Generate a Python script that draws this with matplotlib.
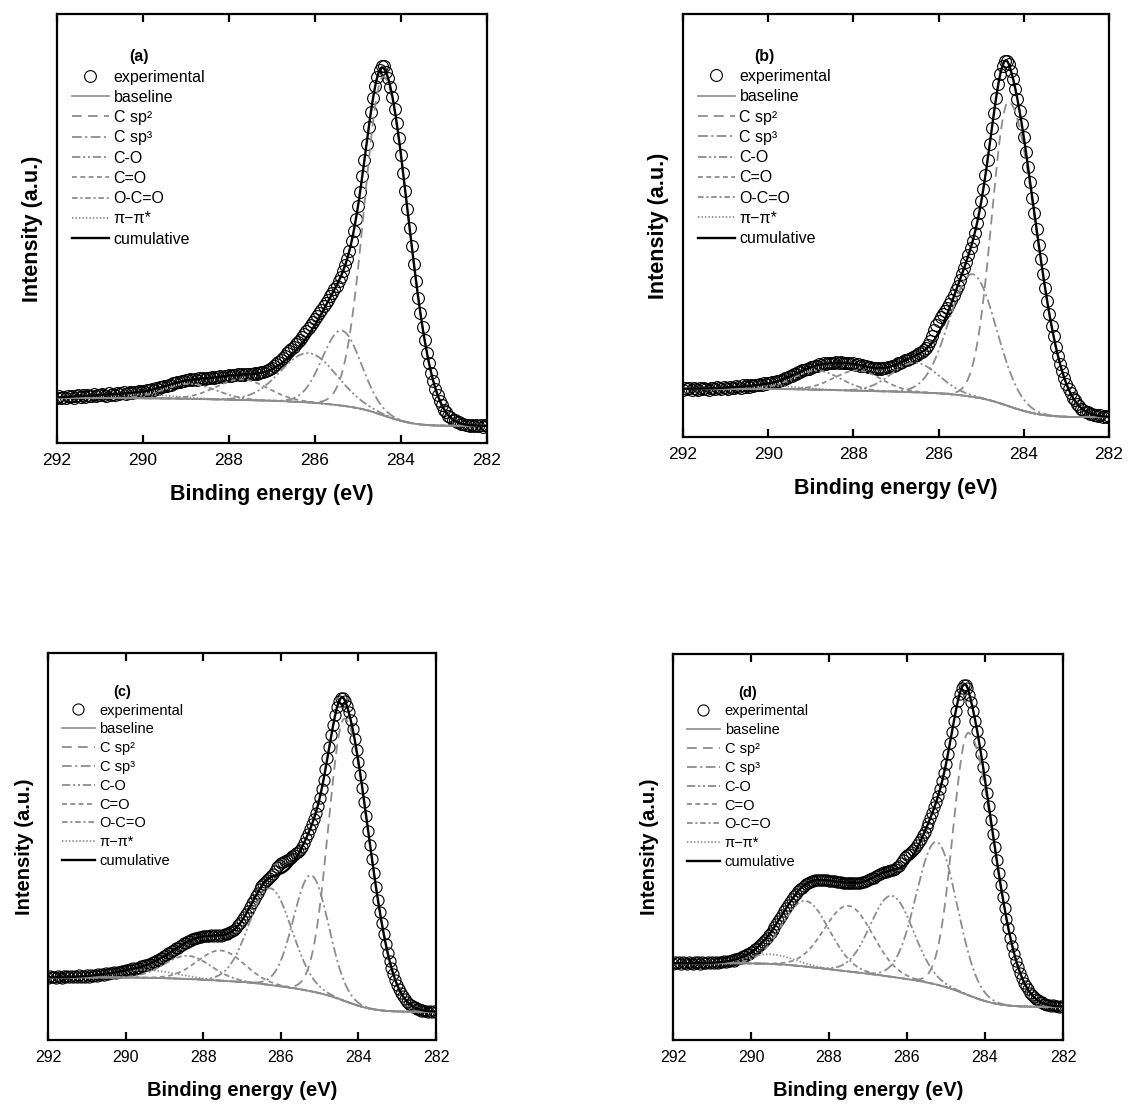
import numpy as np
import matplotlib
matplotlib.use('Agg')
import matplotlib.pyplot as plt
from matplotlib.lines import Line2D

plt.rcParams['font.family'] = ['Liberation Sans', 'DejaVu Sans']
plt.rcParams['lines.scale_dashes'] = False

# measured C1s intensity (% of axis height), 292 -> 282 eV in 0.05 eV steps
exp_a = [10.5, 10.9, 10.6, 10.8, 10.4, 10.9, 10.7, 11.0, 10.6, 10.9,
         11.1, 10.7, 11.2, 10.8, 11.3, 11.0, 10.9, 11.4, 11.0, 11.3,
         11.1, 11.5, 11.2, 11.0, 11.6, 11.3, 11.5, 11.2, 11.7, 11.4,
         11.6, 11.8, 11.4, 11.7, 11.9, 11.6, 12.0, 11.8, 12.1, 11.9,
         12.2, 12.0, 12.4, 12.3, 12.5, 12.4, 12.8, 12.7, 13.0, 13.1,
         13.3, 13.3, 13.6, 13.6, 13.9, 13.9, 14.2, 14.2, 14.5, 14.4,
         14.7, 14.6, 14.9, 14.7, 15.0, 14.8, 15.1, 14.9, 15.2, 15.0,
         15.2, 15.1, 15.3, 15.2, 15.4, 15.3, 15.6, 15.4, 15.7, 15.6,
         15.8, 15.7, 15.9, 15.8, 16.0, 15.9, 16.1, 15.9, 16.1, 16.0,
         16.2, 16.1, 16.3, 16.2, 16.4, 16.5, 16.6, 16.8, 17.0, 17.2,
         17.5, 17.9, 18.4, 18.9, 19.4, 19.9, 20.4, 20.9, 21.5, 22.0,
         22.5, 23.0, 23.6, 24.1, 24.7, 25.4, 26.0, 26.7, 27.4, 28.1,
         28.8, 29.6, 30.4, 31.1, 31.9, 32.6, 33.4, 34.2, 35.0, 35.8,
         36.7, 37.7, 38.8, 40.0, 41.4, 43.0, 44.8, 47.0, 49.4, 52.2,
         55.3, 58.6, 62.2, 66.0, 69.8, 73.6, 77.2, 80.4, 83.2, 85.4,
         86.9, 88.0, 87.8, 86.5, 85.0, 83.1, 80.7, 77.9, 74.6, 71.0,
         67.1, 63.0, 58.8, 54.5, 50.2, 45.9, 41.7, 37.7, 33.9, 30.3,
         27.0, 23.9, 21.1, 18.6, 16.4, 14.4, 12.7, 11.2, 9.9, 8.8,
         7.8, 7.2, 6.4, 6.1, 5.4, 5.3, 4.8, 4.8, 4.4, 4.5,
         4.2, 4.3, 4.0, 4.2, 3.9, 4.2, 3.9, 4.1, 3.8, 4.1,
         3.9]

exp_b = [11.2, 11.6, 11.3, 11.5, 11.1, 11.6, 11.4, 11.2, 11.7, 11.3,
         11.6, 11.4, 11.2, 11.7, 11.5, 11.3, 11.8, 11.5, 11.4, 11.9,
         11.6, 11.4, 11.9, 11.7, 11.5, 12.0, 11.8, 11.6, 12.2, 11.9,
         12.2, 11.9, 12.3, 12.0, 12.4, 12.2, 12.5, 12.3, 12.7, 12.5,
         12.8, 12.7, 13.0, 12.9, 13.3, 13.2, 13.6, 13.5, 13.9, 13.9,
         14.4, 14.4, 14.8, 14.8, 15.3, 15.3, 15.8, 15.8, 16.2, 16.2,
         16.6, 16.6, 16.9, 16.9, 17.2, 17.1, 17.4, 17.3, 17.5, 17.4,
         17.6, 17.4, 17.7, 17.5, 17.7, 17.4, 17.6, 17.4, 17.5, 17.3,
         17.4, 17.1, 17.2, 16.9, 17.0, 16.7, 16.8, 16.5, 16.6, 16.3,
         16.4, 16.2, 16.4, 16.2, 16.4, 16.3, 16.6, 16.5, 16.9, 16.8,
         17.1, 17.4, 17.6, 17.8, 18.1, 18.3, 18.5, 18.8, 19.0, 19.2,
         19.5, 19.8, 20.1, 20.5, 21.0, 21.8, 22.8, 24.0, 25.3, 26.5,
         27.5, 28.3, 29.0, 29.8, 30.6, 31.5, 32.5, 33.6, 34.8, 35.8,
         37.2, 38.6, 40.0, 41.5, 43.0, 44.6, 46.4, 48.3, 50.5, 52.9,
         55.7, 58.7, 62.0, 65.5, 69.2, 73.0, 76.7, 80.2, 83.4, 85.9,
         87.8, 88.9, 89.0, 88.1, 86.5, 84.6, 82.4, 79.9, 77.1, 74.1,
         70.9, 67.5, 63.9, 60.3, 56.6, 52.9, 49.2, 45.5, 42.0, 38.5,
         35.2, 32.1, 29.1, 26.3, 23.8, 21.4, 19.2, 17.3, 15.5, 14.0,
         12.6, 11.3, 10.4, 9.3, 8.7, 7.8, 7.4, 6.7, 6.5, 6.0,
         5.9, 5.5, 5.5, 5.1, 5.2, 4.9, 5.1, 4.8, 4.9, 4.7,
         4.9]

exp_c = [16.1, 16.5, 16.2, 16.4, 16.0, 16.5, 16.3, 16.1, 16.6, 16.3,
         16.5, 16.2, 16.6, 16.3, 16.5, 16.2, 16.7, 16.4, 16.6, 16.3,
         16.7, 16.4, 16.8, 16.6, 16.9, 16.6, 17.0, 16.8, 17.1, 16.9,
         17.2, 17.1, 17.4, 17.2, 17.5, 17.4, 17.7, 17.6, 17.9, 17.8,
         18.1, 18.0, 18.3, 18.2, 18.5, 18.4, 18.7, 18.7, 19.0, 19.0,
         19.3, 19.3, 19.7, 19.7, 20.2, 20.2, 20.6, 20.7, 21.2, 21.3,
         21.8, 21.9, 22.4, 22.6, 23.1, 23.2, 23.7, 23.9, 24.4, 24.5,
         25.0, 25.1, 25.5, 25.6, 26.0, 26.0, 26.4, 26.3, 26.7, 26.6,
         26.9, 26.8, 27.0, 26.9, 27.1, 26.9, 27.1, 26.9, 27.2, 27.0,
         27.2, 27.3, 27.4, 27.6, 27.8, 28.1, 28.5, 29.0, 29.6, 30.2,
         30.9, 31.7, 32.5, 33.4, 34.3, 35.3, 36.2, 37.2, 38.1, 38.9,
         39.7, 40.3, 40.9, 41.4, 41.8, 42.3, 43.0, 43.8, 44.6, 45.2,
         45.7, 46.0, 46.3, 46.5, 46.8, 47.1, 47.5, 47.9, 48.4, 48.7,
         49.2, 50.0, 51.0, 52.1, 53.2, 54.4, 55.7, 57.1, 58.7, 60.5,
         62.5, 64.8, 67.3, 70.0, 72.8, 75.8, 78.7, 81.5, 84.0, 86.0,
         87.6, 88.4, 88.5, 87.7, 86.4, 84.7, 82.7, 80.4, 77.8, 75.0,
         71.9, 68.6, 65.1, 61.5, 57.8, 54.1, 50.3, 46.7, 43.1, 39.6,
         36.3, 33.2, 30.2, 27.5, 24.9, 22.6, 20.5, 18.7, 17.0, 15.5,
         14.2, 13.1, 12.1, 11.3, 10.5, 9.9, 9.2, 9.1, 8.5, 8.5,
         8.0, 8.1, 7.6, 7.8, 7.4, 7.6, 7.3, 7.5, 7.2, 7.5,
         7.3]

exp_d = [19.8, 20.2, 19.9, 20.1, 19.7, 20.2, 19.9, 19.8, 20.3, 20.0,
         19.8, 20.2, 19.9, 20.1, 19.8, 20.3, 20.0, 19.9, 20.2, 19.9,
         20.1, 19.9, 20.2, 20.0, 20.3, 20.1, 20.4, 20.2, 20.5, 20.4,
         20.7, 20.6, 21.0, 20.9, 21.3, 21.3, 21.7, 21.8, 22.2, 22.3,
         22.7, 23.1, 23.5, 23.9, 24.3, 24.8, 25.4, 25.9, 26.5, 27.2,
         27.8, 28.5, 29.3, 30.1, 30.8, 31.7, 32.5, 33.3, 34.1, 34.9,
         35.7, 36.5, 37.2, 37.8, 38.5, 39.0, 39.5, 40.0, 40.4, 40.7,
         40.9, 41.2, 41.3, 41.4, 41.5, 41.5, 41.5, 41.5, 41.4, 41.4,
         41.3, 41.3, 41.2, 41.1, 41.0, 41.0, 40.9, 40.8, 40.8, 40.7,
         40.7, 40.6, 40.6, 40.6, 40.6, 40.7, 40.8, 40.9, 41.0, 41.2,
         41.4, 41.6, 41.9, 42.1, 42.4, 42.7, 42.9, 43.2, 43.4, 43.6,
         43.7, 43.9, 44.0, 44.1, 44.4, 44.7, 45.2, 45.8, 46.6, 47.3,
         47.9, 48.3, 48.7, 49.2, 49.8, 50.5, 51.3, 52.1, 53.0, 54.0,
         55.1, 56.3, 57.6, 58.9, 60.3, 61.7, 63.3, 65.1, 67.0, 69.2,
         71.6, 74.2, 76.9, 79.7, 82.6, 85.2, 87.7, 89.7, 91.2, 92.0,
         92.1, 91.2, 89.5, 87.5, 85.2, 82.7, 80.0, 77.1, 74.0, 70.8,
         67.4, 64.0, 60.5, 57.0, 53.5, 50.1, 46.6, 43.3, 40.1, 37.1,
         34.2, 31.4, 28.9, 26.5, 24.3, 22.3, 20.5, 18.8, 17.4, 16.1,
         14.9, 13.9, 13.1, 12.3, 11.7, 11.1, 10.6, 10.4, 9.9, 9.8,
         9.4, 9.4, 9.0, 9.1, 8.8, 9.0, 8.7, 8.9, 8.6, 8.8,
         8.6]

# fitted components: C sp2, C sp3, C-O, C=O, O-C=O, pi-pi*
comp_labels = ['C sp²', 'C sp³', 'C-O', 'C=O', 'O-C=O', 'π−π*']

# centre (eV), height above background (%), width on low / high BE side (eV)
centers_a = [284.40, 285.38, 286.15, 287.70, 288.90, 290.3]
heights_a = [79.0, 17.5, 11.5, 4.8, 3.5, 1.0]
sig_lo_a = [0.57, 0.45, 0.65, 0.60, 0.60, 0.9]
sig_hi_a = [0.45, 0.45, 0.65, 0.60, 0.60, 0.9]
base_a = [10.5, 4.0]   # background level at 292 eV and 282 eV

centers_b = [284.35, 285.20, 286.55, 287.90, 288.85, 290.0]
heights_b = [72.0, 29.0, 7.0, 4.8, 4.5, 0.8]
sig_lo_b = [0.64, 0.55, 0.55, 0.55, 0.55, 0.7]
sig_hi_b = [0.40, 0.55, 0.55, 0.55, 0.55, 0.7]
base_b = [11.4, 4.7]

centers_c = [284.35, 285.22, 286.27, 287.55, 288.40, 289.5]
heights_c = [73.0, 30.0, 25.0, 7.8, 6.0, 2.0]
sig_lo_c = [0.62, 0.45, 0.55, 0.60, 0.60, 0.8]
sig_hi_c = [0.42, 0.45, 0.55, 0.60, 0.60, 0.8]
base_c = [16.2, 7.3]

centers_d = [284.42, 285.24, 286.39, 287.50, 288.60, 289.5]
heights_d = [68.0, 37.0, 21.0, 17.0, 17.0, 2.5]
sig_lo_d = [0.65, 0.52, 0.55, 0.62, 0.60, 0.6]
sig_hi_d = [0.40, 0.52, 0.55, 0.62, 0.60, 0.6]
base_d = [19.9, 8.6]

gray = '#8c8c8c'
comp_styles = [(0, (7, 4.5)), (0, (7, 2.5, 1.5, 2.5)), (0, (6, 2, 1.5, 2, 1.5, 2)),
               (0, (3.5, 2.5)), (0, (4, 2, 1.5, 2)), (0, (1, 1.5))]


def model(centers, heights, sig_lo, sig_hi, base):
    xf = np.linspace(282, 292, 1001)
    comps = []
    for c, h, sl, sh in zip(centers, heights, sig_lo, sig_hi):
        s = np.where(xf < c, sl, sh)
        comps.append(h * np.exp(-(xf - c) ** 2 / (2 * s ** 2)))
    # shirley-type background between the two end levels
    cum = np.cumsum(np.sum(comps, axis=0))
    bg = base[1] + (base[0] - base[1]) * cum / cum[-1]
    return xf, comps, bg


def draw(ax, tag, pars, exp_y, fs, ms, tick_fs, lab_fs):
    xf, comps, bg = model(*pars)
    x_exp = np.linspace(292, 282, len(exp_y))
    ax.plot(x_exp, exp_y, 'o', ls='none', mfc='none', mec='black', ms=ms, mew=0.8, zorder=2)
    ax.plot(xf, bg, color=gray, lw=1.2, zorder=3)
    for comp, st in zip(comps, comp_styles):
        ax.plot(xf, bg + comp, color=gray, lw=1.3, ls=st, zorder=3)
    ax.plot(xf, bg + np.sum(comps, axis=0), color='black', lw=1.7, zorder=4)

    ax.set_xlim(292, 282)
    ax.set_ylim(0, 100)
    ax.set_xticks([292, 290, 288, 286, 284, 282])
    ax.set_yticks([])
    ax.tick_params(axis='x', direction='in', top=True, length=6, width=1.6,
                   labelsize=tick_fs, pad=7)
    for sp in ax.spines.values():
        sp.set_linewidth(1.6)
    ax.set_xlabel('Binding energy (eV)', fontsize=lab_fs, fontweight='bold', labelpad=12)
    ax.set_ylabel('Intensity (a.u.)', fontsize=lab_fs, fontweight='bold', labelpad=10)

    handles = [Line2D([], [], marker='o', ls='none', mfc='none', mec='black', ms=ms, mew=0.8),
               Line2D([], [], color=gray, lw=1.2)]
    handles += [Line2D([], [], color=gray, lw=1.3, ls=st) for st in comp_styles]
    handles.append(Line2D([], [], color='black', lw=1.7))
    labels = ['experimental', 'baseline'] + comp_labels + ['cumulative']
    ax.legend(handles, labels, loc='upper left', bbox_to_anchor=(0.035, 0.918),
              frameon=False, fontsize=fs, title=tag,
              title_fontproperties={'weight': 'bold', 'size': fs},
              borderpad=0, borderaxespad=0, labelspacing=0.33, handlelength=2.3,
              handletextpad=0.3, numpoints=1)


fig = plt.figure(figsize=(11.35, 11.07), dpi=100)
ax_a = fig.add_axes([0.0502, 0.5998, 0.3789, 0.3875])
ax_b = fig.add_axes([0.6018, 0.6052, 0.3753, 0.3821])
ax_c = fig.add_axes([0.0423, 0.0605, 0.3419, 0.3496])
ax_d = fig.add_axes([0.5930, 0.0605, 0.3436, 0.3487])

draw(ax_a, '(a)', (centers_a, heights_a, sig_lo_a, sig_hi_a, base_a), exp_a, 11.5, 8.5, 12.5, 15.5)
draw(ax_b, '(b)', (centers_b, heights_b, sig_lo_b, sig_hi_b, base_b), exp_b, 11.5, 8.5, 12.5, 15.5)
draw(ax_c, '(c)', (centers_c, heights_c, sig_lo_c, sig_hi_c, base_c), exp_c, 10.5, 8, 11.5, 14.5)
draw(ax_d, '(d)', (centers_d, heights_d, sig_lo_d, sig_hi_d, base_d), exp_d, 10.5, 8, 11.5, 14.5)

fig.savefig('out.png', dpi=100)
